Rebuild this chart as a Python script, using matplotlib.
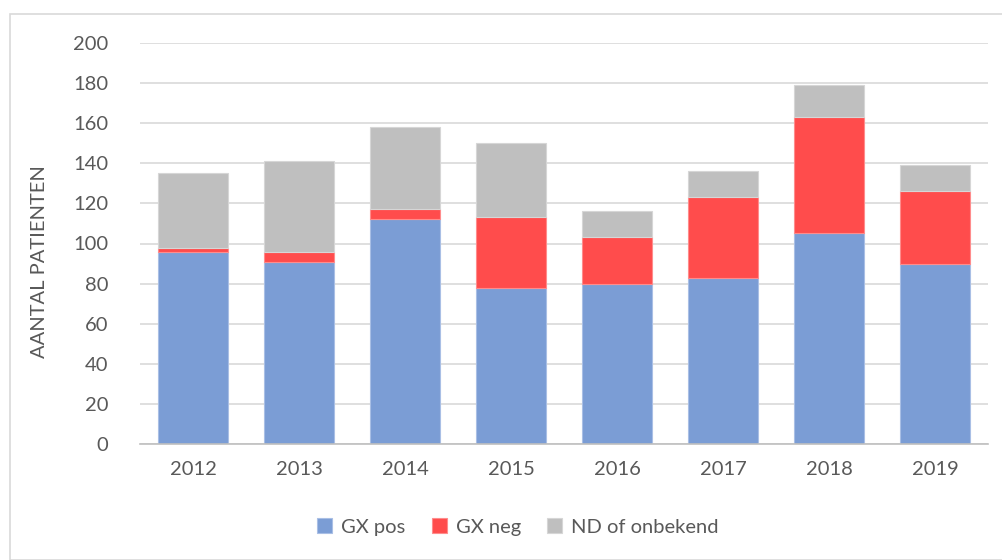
import matplotlib
matplotlib.use("Agg")
import matplotlib.pyplot as plt
from matplotlib.patches import Rectangle

years = ["2012", "2013", "2014", "2015", "2016", "2017", "2018", "2019"]
gx_pos = [96, 91, 112, 78, 80, 83, 105, 90]
gx_neg = [2, 5, 5, 35, 23, 40, 58, 36]
nd_onbekend = [37, 45, 41, 37, 13, 13, 16, 13]
series_names = ["GX pos", "GX neg", "ND of onbekend"]
colors = ["#7B9DD5", "#FF4C4C", "#BFBFBF"]
edges = ["#A9BFE5", "#FF8C8C", "#D6D6D6"]
yticks = [0, 20, 40, 60, 80, 100, 120, 140, 160, 180, 200]

plt.rcParams['font.family'] = ['Lato', 'DejaVu Sans']
W, H = 1003, 560
fig = plt.figure(figsize=(W/100, H/100), dpi=100)
fig.patches.append(Rectangle((10/W, 0), 2, 1 - 14/H, transform=fig.transFigure,
                             fill=False, edgecolor="#D9D9D9", linewidth=1.2))
ax = fig.add_axes([140/W, 1 - 444/H, (988-140)/W, (444-43)/H])

x = list(range(len(years)))
bottom = [0]*len(years)
for vals, name, c, e in zip([gx_pos, gx_neg, nd_onbekend], series_names, colors, edges):
    ax.bar(x, vals, width=0.66, bottom=bottom, color=c, edgecolor=e, linewidth=0.8,
           label=name, zorder=3)
    bottom = [b + v for b, v in zip(bottom, vals)]

ax.set_xlim(-0.5, len(years) - 0.5)
ax.set_ylim(0, 200)
ax.set_yticks(yticks)
ax.set_yticklabels([str(t) for t in yticks])
ax.set_xticks(x)
ax.set_xticklabels(years)
ax.grid(axis='y', color="#D9D9D9", linewidth=1.2, zorder=0)
for s in ["top", "right", "left"]:
    ax.spines[s].set_visible(False)
ax.spines["bottom"].set_color("#BFBFBF")
ax.spines["bottom"].set_linewidth(1.2)
ax.spines["bottom"].set_zorder(4)
ax.tick_params(axis='both', length=0, labelsize=14.5, colors="#595959")
ax.tick_params(axis='y', pad=23)
ax.tick_params(axis='x', pad=12)
fig.text(40/W, 1 - 262/H, "AANTAL PATIENTEN", rotation=90, ha='center', va='center',
         fontsize=14.5, color="#595959")

leg = fig.legend(loc='center', bbox_to_anchor=(518/W, 1 - 527/H), ncol=3, frameon=False,
                 fontsize=14.5, handlelength=0.75, handleheight=0.75, columnspacing=1.3,
                 handletextpad=0.45)
for t in leg.get_texts():
    t.set_color("#595959")

fig.savefig("out.png", dpi=100)
